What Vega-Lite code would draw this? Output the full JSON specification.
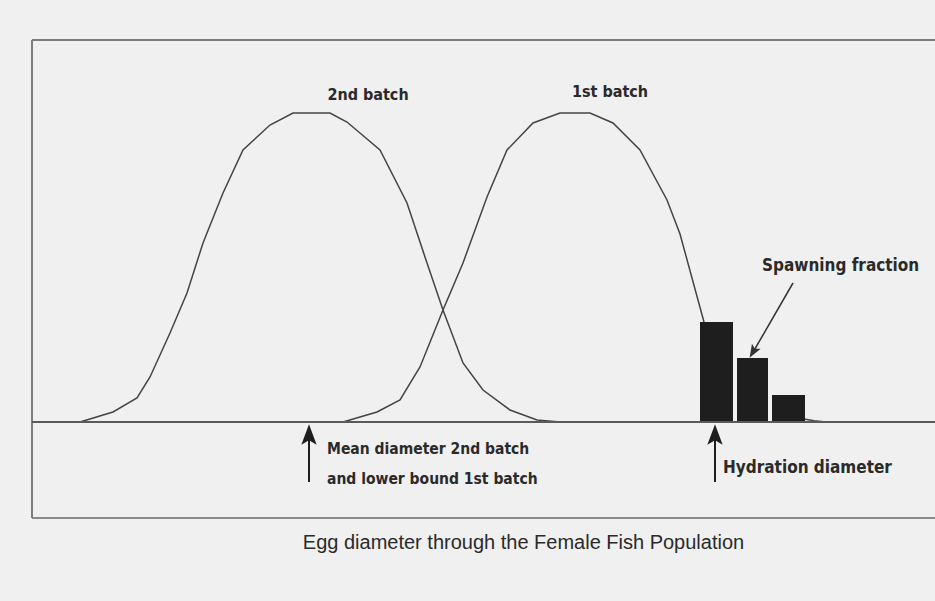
{
  "$schema": "https://vega.github.io/schema/vega-lite/v6.json",
  "width": 903,
  "height": 478,
  "padding": {"left": 32, "top": 40, "right": 0, "bottom": 83},
  "autosize": {"type": "none"},
  "background": "#f0f0f0",
  "config": {"view": {"stroke": null}},
  "datasets": {
    "curves": [
      {"batch": "2nd", "d": 80, "n": 0}, {"batch": "2nd", "d": 113, "n": 10}, {"batch": "2nd", "d": 137, "n": 24},
      {"batch": "2nd", "d": 150, "n": 45}, {"batch": "2nd", "d": 170, "n": 89}, {"batch": "2nd", "d": 187, "n": 129},
      {"batch": "2nd", "d": 203, "n": 179}, {"batch": "2nd", "d": 223, "n": 229}, {"batch": "2nd", "d": 243, "n": 272},
      {"batch": "2nd", "d": 270, "n": 297}, {"batch": "2nd", "d": 293, "n": 309}, {"batch": "2nd", "d": 330, "n": 309},
      {"batch": "2nd", "d": 347, "n": 300}, {"batch": "2nd", "d": 380, "n": 272}, {"batch": "2nd", "d": 407, "n": 219},
      {"batch": "2nd", "d": 427, "n": 159}, {"batch": "2nd", "d": 443, "n": 112}, {"batch": "2nd", "d": 463, "n": 59},
      {"batch": "2nd", "d": 483, "n": 32}, {"batch": "2nd", "d": 510, "n": 12}, {"batch": "2nd", "d": 537, "n": 2},
      {"batch": "2nd", "d": 560, "n": 0},
      {"batch": "1st", "d": 343, "n": 0}, {"batch": "1st", "d": 377, "n": 10}, {"batch": "1st", "d": 400, "n": 22},
      {"batch": "1st", "d": 420, "n": 55}, {"batch": "1st", "d": 443, "n": 112}, {"batch": "1st", "d": 463, "n": 159},
      {"batch": "1st", "d": 487, "n": 225}, {"batch": "1st", "d": 507, "n": 272}, {"batch": "1st", "d": 533, "n": 299},
      {"batch": "1st", "d": 560, "n": 309}, {"batch": "1st", "d": 590, "n": 309}, {"batch": "1st", "d": 613, "n": 299},
      {"batch": "1st", "d": 640, "n": 272}, {"batch": "1st", "d": 667, "n": 222}, {"batch": "1st", "d": 680, "n": 188},
      {"batch": "1st", "d": 704, "n": 100},
      {"batch": "1st tail", "d": 804, "n": 3}, {"batch": "1st tail", "d": 814, "n": 1.2}, {"batch": "1st tail", "d": 826, "n": 0}
    ],
    "bars": [
      {"d0": 700, "d1": 733, "n": 100},
      {"d0": 737, "d1": 768, "n": 64},
      {"d0": 772, "d1": 805, "n": 27}
    ],
    "upArrows": [
      {"d": 309, "tail": -60, "head": -15},
      {"d": 715, "tail": -60, "head": -15}
    ],
    "diagArrow": [
      {"d0": 793, "n0": 139, "d1": 752, "n1": 68, "hd": 753.8, "hn": 71.5}
    ],
    "batchLabels": [
      {"label": "2nd batch", "d": 368, "n": 327},
      {"label": "1st batch", "d": 610, "n": 330}
    ],
    "meanNote": [
      {"label": "Mean diameter 2nd batch", "d": 327, "n": -27},
      {"label": "and lower bound 1st batch", "d": 327, "n": -57}
    ],
    "hydrationNote": [
      {"label": "Hydration diameter", "d": 723, "n": -46}
    ],
    "spawn": [
      {"label": "Spawning fraction", "d": 762, "n": 156}
    ],
    "frame": [{"top": 382, "bottom": -96, "base": 0, "left": 32}]
  },
  "layer": [
    {
      "data": {"name": "frame"},
      "mark": {"type": "rule", "color": "#7d7d7d", "strokeWidth": 2},
      "encoding": {
        "y": {"field": "top", "type": "quantitative", "scale": {"domain": [-96, 382], "zero": false, "nice": false}, "axis": null}
      }
    },
    {
      "data": {"name": "frame"},
      "mark": {"type": "rule", "color": "#8a8a8a", "strokeWidth": 2},
      "encoding": {
        "y": {"field": "bottom", "type": "quantitative", "scale": {"domain": [-96, 382], "zero": false, "nice": false}, "axis": null}
      }
    },
    {
      "data": {"name": "frame"},
      "mark": {"type": "rule", "color": "#7d7d7d", "strokeWidth": 2},
      "encoding": {
        "x": {"field": "left", "type": "quantitative", "scale": {"domain": [32, 935], "zero": false, "nice": false},
              "axis": {"title": "Egg diameter through the Female Fish Population", "labels": false, "ticks": false, "domain": false, "grid": false,
                       "titleFont": "Liberation Sans", "titleFontSize": 20, "titleFontWeight": "normal", "titleColor": "#2a2a2a", "titlePadding": 14,
                       "titleX": 491, "titleAlign": "center", "titleAnchor": null}}
      }
    },
    {
      "data": {"name": "curves"},
      "mark": {"type": "line", "color": "#444444", "strokeWidth": 1.5},
      "encoding": {
        "x": {"field": "d", "type": "quantitative", "scale": {"domain": [32, 935], "zero": false, "nice": false}},
        "y": {"field": "n", "type": "quantitative", "scale": {"domain": [-96, 382], "zero": false, "nice": false}},
        "detail": {"field": "batch"}
      }
    },
    {
      "data": {"name": "bars"},
      "mark": {"type": "rect", "color": "#1e1e1e"},
      "encoding": {
        "x": {"field": "d0", "type": "quantitative", "scale": {"domain": [32, 935], "zero": false, "nice": false}},
        "x2": {"field": "d1"},
        "y": {"field": "n", "type": "quantitative", "scale": {"domain": [-96, 382], "zero": false, "nice": false}},
        "y2": {"datum": 0}
      }
    },
    {
      "data": {"name": "frame"},
      "mark": {"type": "rule", "color": "#5a5a5a", "strokeWidth": 2},
      "encoding": {
        "y": {"field": "base", "type": "quantitative", "scale": {"domain": [-96, 382], "zero": false, "nice": false}}
      }
    },
    {
      "data": {"name": "upArrows"},
      "mark": {"type": "rule", "color": "#1e1e1e", "strokeWidth": 2},
      "encoding": {
        "x": {"field": "d", "type": "quantitative", "scale": {"domain": [32, 935], "zero": false, "nice": false}},
        "y": {"field": "tail", "type": "quantitative", "scale": {"domain": [-96, 382], "zero": false, "nice": false}},
        "y2": {"field": "head"}
      }
    },
    {
      "data": {"name": "upArrows"},
      "mark": {"type": "point", "shape": "M0,-1L0.6,0.6L0,0.25L-0.6,0.6Z", "filled": true, "color": "#1e1e1e", "opacity": 1, "size": 650, "strokeWidth": 0},
      "encoding": {
        "x": {"field": "d", "type": "quantitative", "scale": {"domain": [32, 935], "zero": false, "nice": false}},
        "y": {"field": "head", "type": "quantitative", "scale": {"domain": [-96, 382], "zero": false, "nice": false}}
      }
    },
    {
      "data": {"name": "diagArrow"},
      "mark": {"type": "rule", "color": "#333333", "strokeWidth": 1.5},
      "encoding": {
        "x": {"field": "d0", "type": "quantitative", "scale": {"domain": [32, 935], "zero": false, "nice": false}},
        "y": {"field": "n0", "type": "quantitative", "scale": {"domain": [-96, 382], "zero": false, "nice": false}},
        "x2": {"field": "d1"},
        "y2": {"field": "n1"}
      }
    },
    {
      "data": {"name": "diagArrow"},
      "mark": {"type": "point", "shape": "M0,-1L0.6,0.6L0,0.25L-0.6,0.6Z", "filled": true, "color": "#333333", "opacity": 1, "size": 280, "angle": 210, "strokeWidth": 0},
      "encoding": {
        "x": {"field": "hd", "type": "quantitative", "scale": {"domain": [32, 935], "zero": false, "nice": false}},
        "y": {"field": "hn", "type": "quantitative", "scale": {"domain": [-96, 382], "zero": false, "nice": false}}
      }
    },
    {
      "data": {"name": "batchLabels"},
      "mark": {"type": "text", "font": "DejaVu Sans Condensed", "fontWeight": "bold", "fontSize": 16, "color": "#2a2a2a", "align": "center", "baseline": "middle"},
      "encoding": {
        "x": {"field": "d", "type": "quantitative", "scale": {"domain": [32, 935], "zero": false, "nice": false}},
        "y": {"field": "n", "type": "quantitative", "scale": {"domain": [-96, 382], "zero": false, "nice": false}},
        "text": {"field": "label"}
      }
    },
    {
      "data": {"name": "meanNote"},
      "mark": {"type": "text", "font": "DejaVu Sans Condensed", "fontWeight": "bold", "fontSize": 15.5, "color": "#2a2a2a", "align": "left", "baseline": "middle"},
      "encoding": {
        "x": {"field": "d", "type": "quantitative", "scale": {"domain": [32, 935], "zero": false, "nice": false}},
        "y": {"field": "n", "type": "quantitative", "scale": {"domain": [-96, 382], "zero": false, "nice": false}},
        "text": {"field": "label"}
      }
    },
    {
      "data": {"name": "hydrationNote"},
      "mark": {"type": "text", "font": "DejaVu Sans Condensed", "fontWeight": "bold", "fontSize": 17, "color": "#2a2a2a", "align": "left", "baseline": "middle"},
      "encoding": {
        "x": {"field": "d", "type": "quantitative", "scale": {"domain": [32, 935], "zero": false, "nice": false}},
        "y": {"field": "n", "type": "quantitative", "scale": {"domain": [-96, 382], "zero": false, "nice": false}},
        "text": {"field": "label"}
      }
    },
    {
      "data": {"name": "spawn"},
      "mark": {"type": "text", "font": "DejaVu Sans Condensed", "fontWeight": "bold", "fontSize": 17, "color": "#2a2a2a", "align": "left", "baseline": "middle"},
      "encoding": {
        "x": {"field": "d", "type": "quantitative", "scale": {"domain": [32, 935], "zero": false, "nice": false}},
        "y": {"field": "n", "type": "quantitative", "scale": {"domain": [-96, 382], "zero": false, "nice": false}},
        "text": {"field": "label"}
      }
    }
  ]
}
